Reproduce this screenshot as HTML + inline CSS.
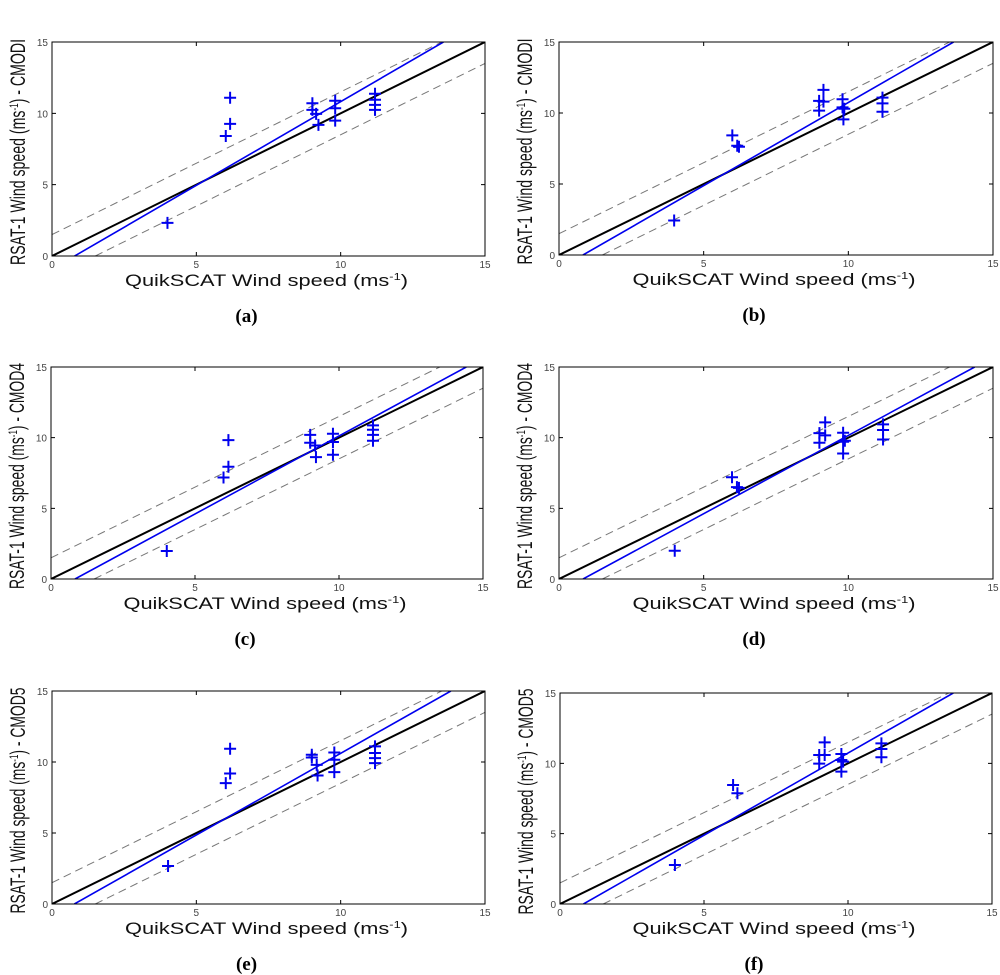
<!DOCTYPE html>
<html><head><meta charset="utf-8"><style>
html,body{margin:0;padding:0;background:#fff;}
svg{display:block;}
</style></head><body>
<svg id="fig" width="1000" height="975" viewBox="0 0 1000 975" xmlns="http://www.w3.org/2000/svg"></svg>
<script>
// ---- data ----
const panelIds = ['a','b','c','d','e','f'];
const modelNames = ['CMODI','CMODI','CMOD4','CMOD4','CMOD5','CMOD5'];
const tickValues = [0,5,10,15];
const tickLabels = ['0','5','10','15'];
const fitSlopes = [1.174,1.171,1.104,1.108,1.150,1.168];
const fitIntercepts = [-0.92,-0.97,-0.92,-0.92,-0.89,-0.95];
const bandOffset = 1.5;
const xA = [4.0,6.02,6.17,6.17,9.02,9.02,9.15,9.23,9.81,9.81,9.81,11.19,11.19,11.19,11.19];
const yA = [2.32,8.41,9.26,11.09,10.71,10.24,9.96,9.19,10.88,10.36,9.49,11.37,10.95,10.59,10.24];
const xB = [3.98,5.99,6.16,6.22,8.99,8.99,9.14,9.14,9.80,9.80,9.86,9.83,11.18,11.18,11.18];
const yB = [2.43,8.42,7.69,7.62,10.85,10.17,11.63,10.80,10.97,10.40,10.30,9.55,11.08,10.68,10.09];
const xC = [4.02,5.99,6.16,6.16,9.0,9.0,9.17,9.2,9.79,9.79,9.79,11.18,11.18,11.18,11.18];
const yC = [1.98,7.18,7.94,9.83,10.2,9.64,9.45,8.62,10.28,9.69,8.79,10.87,10.56,10.2,9.78];
const xD = [4.0,5.98,6.15,6.22,9.0,9.0,9.2,9.2,9.82,9.82,9.88,9.82,11.2,11.2,11.2];
const yD = [2.0,7.2,6.5,6.45,9.64,10.32,11.08,10.16,10.35,9.71,9.78,8.88,10.94,10.54,9.87];
const xE = [4.02,6.02,6.17,6.17,9.0,9.0,9.17,9.2,9.78,9.78,9.78,11.19,11.19,11.19,11.19];
const yE = [2.68,8.51,9.19,10.93,10.51,10.32,9.8,9.05,10.67,10.16,9.29,11.1,10.63,10.27,9.92];
const xF = [3.99,6.01,6.16,9.0,9.0,9.19,9.19,9.77,9.77,9.83,9.77,11.16,11.16,11.16];
const yF = [2.77,8.46,7.87,10.59,9.98,11.49,10.59,10.66,10.24,10.12,9.41,11.42,11.02,10.43];
const seriesX = [xA,xB,xC,xD,xE,xF];
const seriesY = [yA,yB,yC,yD,yE,yF];

// ---- layout ----
const boxes = [
 {l:52,r:485,t:42,b:256},{l:559,r:993,t:42,b:255},
 {l:51,r:483,t:367,b:579},{l:559,r:993,t:367,b:579},
 {l:52,r:485,t:691,b:904},{l:560,r:992,t:693,b:904}
];
const NS='http://www.w3.org/2000/svg';
const svg=document.getElementById('fig');
function mk(tag,attrs,parent){const e=document.createElementNS(NS,tag);for(const k in attrs)e.setAttribute(k,attrs[k]);(parent||svg).appendChild(e);return e;}

boxes.forEach((B,i)=>{
  const g=mk('g',{});
  
  
  const sx=v=>B.l+(v/15)*(B.r-B.l);
  const sy=v=>B.b-(v/15)*(B.b-B.t);
  const clip=mk('clipPath',{id:'clip'+i},g);
  mk('rect',{x:B.l,y:B.t,width:B.r-B.l,height:B.b-B.t},clip);
  const plot=mk('g',{'clip-path':'url(#clip'+i+')'},g);
  const up=mk('line',{x1:sx(0),y1:sy(bandOffset),x2:sx(15-bandOffset),y2:sy(15),stroke:'#777','stroke-width':1,'stroke-dasharray':'8,5'},plot);
  
  
  const lo=mk('line',{x1:sx(bandOffset),y1:sy(0),x2:sx(15),y2:sy(15-bandOffset),stroke:'#777','stroke-width':1,'stroke-dasharray':'8,5'},plot);
  
  
  const one=mk('line',{x1:sx(0),y1:sy(0),x2:sx(15),y2:sy(15),stroke:'#000','stroke-width':2},plot);
  
  
  const m=fitSlopes[i],c=fitIntercepts[i];
  const x0=-c/m, x1=(15-c)/m;
  const fit=mk('line',{x1:sx(x0),y1:sy(0),x2:sx(x1),y2:sy(15),stroke:'#0000ee','stroke-width':1.6},plot);
  
  
  seriesX[i].forEach((xv,j)=>{
    const px=sx(xv),py=sy(seriesY[i][j]);
    const p=mk('path',{d:`M${px-6},${py}H${px+6}M${px},${py-6}V${py+6}`,stroke:'#0000ee','stroke-width':2},g);
    
    
  });
  const fr=mk('rect',{x:B.l,y:B.t,width:B.r-B.l,height:B.b-B.t,fill:'none',stroke:'#000','stroke-width':1},g);
  
  
  tickValues.forEach((v,k)=>{
    const X=sx(v),Y=sy(v);
    mk('path',{d:`M${X},${B.b}v-4M${X},${B.t}v4M${B.l},${Y}h4M${B.r},${Y}h-4`,stroke:'#000','stroke-width':1},g);
    const tx=mk('text',{x:X,y:B.b+12,'font-family':'Liberation Sans, sans-serif','font-size':10,fill:'#444','text-anchor':'middle'},g);
    tx.textContent=tickLabels[k];
    
    
    const ty=mk('text',{x:B.l-4,y:Y+4,'font-family':'Liberation Sans, sans-serif','font-size':10,fill:'#444','text-anchor':'end'},g);
    ty.textContent=tickLabels[k];
    
    
  });
  const cx=(B.l+B.r)/2;
  const xl=mk('text',{x:cx-2,y:B.b+30,'font-family':'Liberation Sans, sans-serif','font-size':17,fill:'#111','text-anchor':'middle',textLength:283,lengthAdjust:'spacingAndGlyphs'},g);
  xl.innerHTML='QuikSCAT Wind speed (ms<tspan dy="-6" font-size="10">-1</tspan><tspan dy="6">)</tspan>';
  
  
  const cy=(B.t+B.b)/2+3;
  const yx=B.l-27;
  const yl=mk('text',{x:0,y:0,transform:`translate(${yx},${cy}) rotate(-90)`,'font-family':'Liberation Sans, sans-serif','font-size':21,fill:'#111','text-anchor':'middle',textLength:226,lengthAdjust:'spacingAndGlyphs'},g);
  yl.innerHTML='RSAT-1 Wind speed (ms<tspan dy="-7" font-size="12">-1</tspan><tspan dy="7">) - '+modelNames[i]+'</tspan>';
  
  
  const cap=mk('text',{x:cx-22,y:B.b+66,'font-family':'Liberation Serif, serif','font-size':19,'font-weight':'bold',fill:'#000','text-anchor':'middle'},g);
  cap.textContent='('+panelIds[i]+')';
  
  
});
</script>
</body></html>
